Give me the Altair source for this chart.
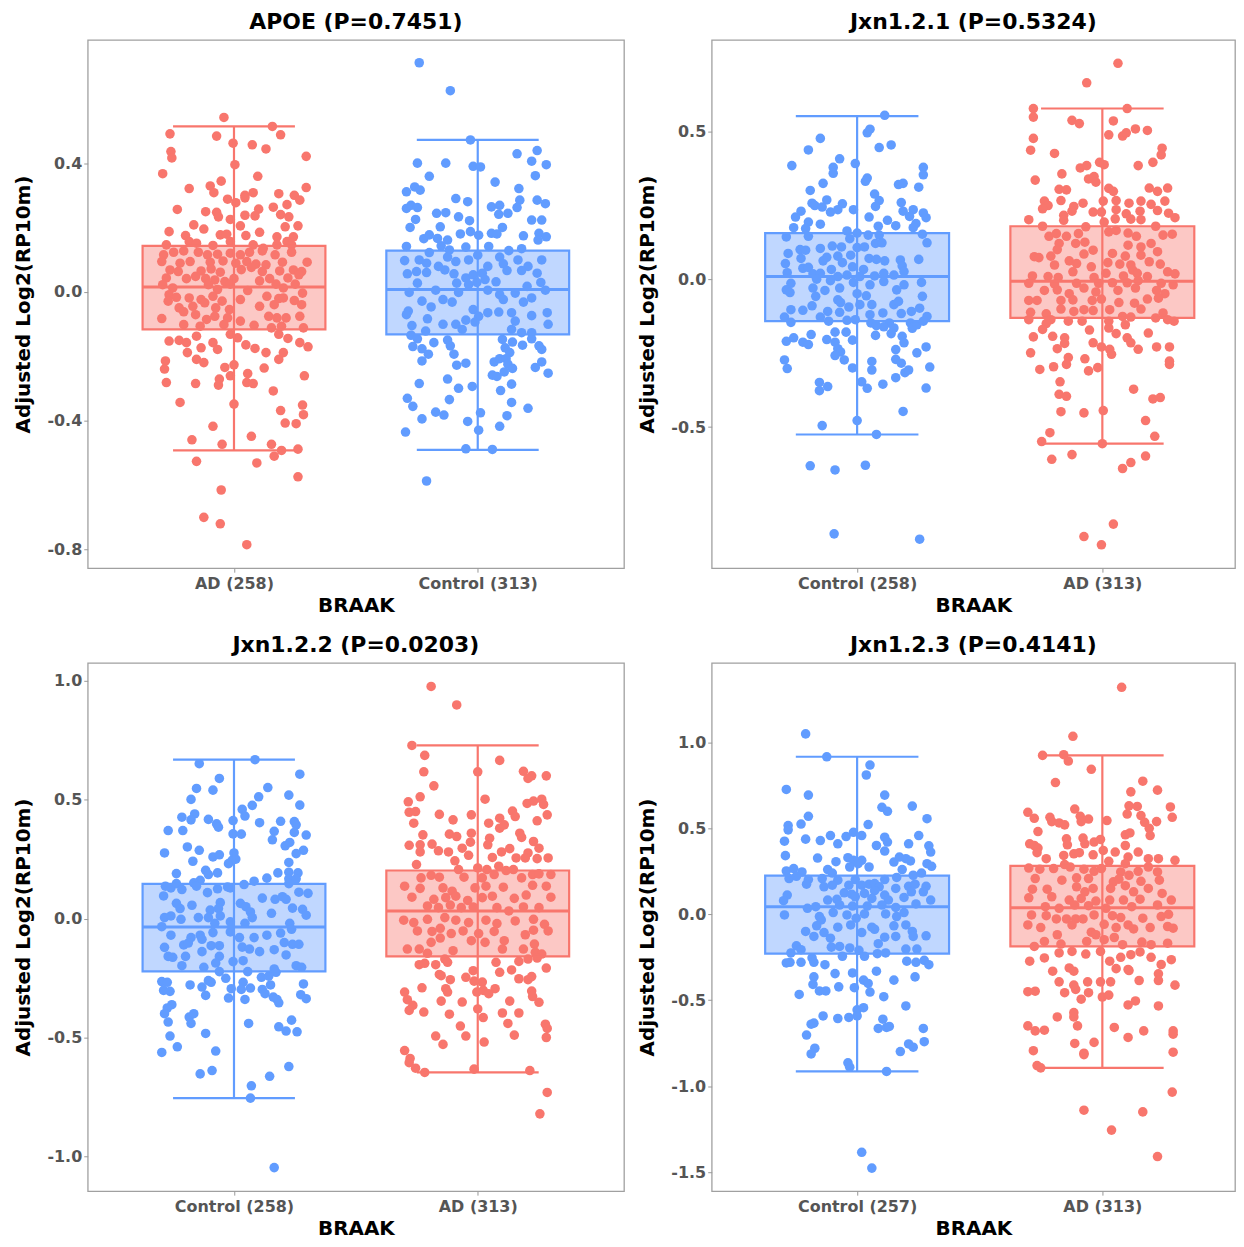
import altair as alt
import pandas as pd

FONT = "DejaVu Sans"
RED, BLUE = "#F8766D", "#619CFF"
RED_FILL, BLUE_FILL = "#FCC8C5", "#C0D7FF"

titles = ["APOE (P=0.7451)", "Jxn1.2.1 (P=0.5324)", "Jxn1.2.2 (P=0.0203)", "Jxn1.2.3 (P=0.4141)"]
categories = [["AD (258)", "Control (313)"], ["Control (258)", "AD (313)"],
              ["Control (258)", "AD (313)"], ["Control (257)", "AD (313)"]]
groups = [["AD", "Control"], ["Control", "AD"], ["Control", "AD"], ["Control", "AD"]]
# [lower whisker, q1, median, q3, upper whisker]
box_stats = [
    [[-0.493, -0.117, 0.015, 0.143, 0.514], [-0.491, -0.132, 0.007, 0.128, 0.472]],
    [[-0.525, -0.142, 0.009, 0.156, 0.551], [-0.556, -0.131, -0.007, 0.179, 0.577]],
    [[-0.755, -0.222, -0.035, 0.146, 0.668], [-0.647, -0.159, 0.032, 0.202, 0.728]],
    [[-0.914, -0.229, 0.044, 0.225, 0.916], [-0.893, -0.187, 0.038, 0.281, 0.924]],
]
y_domains = [[-0.859, 0.783], [-0.977, 0.809], [-1.146, 1.075], [-1.61, 1.462]]
y_ticks = [[-0.8, -0.4, 0.0, 0.4], [-0.5, 0.0, 0.5], [-1.0, -0.5, 0.0, 0.5, 1.0],
           [-1.5, -1.0, -0.5, 0.0, 0.5, 1.0]]

# points: [jitter (fraction of box half-width), value]
p1_ad = [[-0.11,0.542],[0.42,0.514],[-0.70,0.491],[-0.19,0.484],[0.51,0.488],[-0.01,0.462],[0.20,0.457],[0.35,0.444],[-0.69,0.436],[-0.68,0.416],[0.79,0.421],[0.01,0.395],[-0.78,0.367],[0.26,0.359],[-0.14,0.344],[-0.26,0.329],[-0.49,0.321],[-0.22,0.308],[0.79,0.324],[0.12,0.300],[0.21,0.308],[0.49,0.305],[0.66,0.300],[0.72,0.285],[-0.07,0.288],[0.02,0.277],[0.12,0.292],[-0.62,0.256],[-0.31,0.249],[-0.19,0.247],[0.27,0.257],[0.43,0.263],[0.58,0.271],[-0.17,0.233],[-0.04,0.225],[0.12,0.238],[0.23,0.236],[0.51,0.240],[0.60,0.233],[-0.44,0.208],[-0.33,0.195],[0.07,0.205],[0.56,0.202],[0.70,0.205],[-0.71,0.187],[-0.53,0.175],[-0.15,0.177],[-0.08,0.179],[0.13,0.175],[0.28,0.185],[0.47,0.171],[0.65,0.171],[-0.74,0.146],[-0.49,0.156],[-0.41,0.151],[-0.23,0.144],[-0.04,0.156],[0.21,0.146],[0.32,0.135],[0.47,0.146],[0.58,0.156],[0.63,0.146],
 [-0.77,0.115],[-0.66,0.123],[-0.55,0.127],[-0.39,0.123],[-0.29,0.115],[-0.18,0.117],[-0.04,0.120],[0.07,0.115],[0.17,0.123],[0.31,0.127],[0.45,0.115],[0.63,0.123],[-0.79,0.094],[-0.59,0.089],[-0.48,0.094],[-0.26,0.092],[-0.12,0.096],[0.02,0.089],[0.14,0.094],[0.24,0.086],[0.35,0.084],[0.53,0.092],[0.80,0.092],[-0.70,0.068],[-0.61,0.063],[-0.36,0.065],[-0.25,0.071],[-0.15,0.061],[0.08,0.069],[0.19,0.076],[0.31,0.063],[0.50,0.065],[0.65,0.068],[0.74,0.063],[-0.74,0.043],[-0.52,0.041],[-0.42,0.048],[-0.31,0.041],[-0.21,0.037],[-0.10,0.032],[0.00,0.041],[0.28,0.034],[0.39,0.041],[0.59,0.043],[0.71,0.053],[-0.78,0.022],[-0.67,0.012],[-0.28,0.022],[-0.18,0.007],[-0.04,0.024],[0.15,0.004],[0.46,0.024],[0.54,0.012],[0.67,0.024],[-0.71,-0.009],[-0.63,-0.017],[-0.49,-0.019],[-0.36,-0.024],[-0.23,-0.014],[-0.13,-0.029],[0.07,-0.024],[0.36,-0.014],[0.49,-0.021],[0.66,-0.027],[0.75,-0.004],[-0.72,-0.029],[-0.60,-0.050],[-0.45,-0.045],[-0.32,-0.034],[-0.20,-0.050],[-0.05,-0.055],[0.28,-0.045],[0.44,-0.040],[0.54,-0.019],[0.74,-0.040],[-0.79,-0.083],[-0.55,-0.062],[-0.42,-0.071],[-0.30,-0.086],[-0.21,-0.076],[-0.07,-0.081],[0.07,-0.091],[0.38,-0.076],[0.47,-0.081],[0.57,-0.081],[0.72,-0.076],[-0.55,-0.102],[-0.37,-0.107],[-0.11,-0.102],[0.22,-0.104],[0.41,-0.112],[0.52,-0.107],[0.76,-0.112],
 [-0.71,-0.153],[-0.60,-0.151],[-0.52,-0.158],[-0.41,-0.138],[-0.23,-0.158],[-0.18,-0.179],[-0.36,-0.174],[-0.04,-0.132],[0.04,-0.143],[0.13,-0.165],[0.23,-0.176],[0.35,-0.189],[0.49,-0.132],[0.59,-0.145],[0.72,-0.158],[0.81,-0.171],[-0.51,-0.189],[-0.75,-0.215],[-0.76,-0.240],[-0.41,-0.210],[-0.33,-0.220],[0.49,-0.210],[0.54,-0.189],[-0.10,-0.235],[0.00,-0.227],[0.33,-0.237],[-0.04,-0.261],[-0.16,-0.271],[0.15,-0.254],[-0.74,-0.282],[-0.42,-0.285],[-0.17,-0.290],[0.14,-0.282],[0.21,-0.285],[0.77,-0.261],[0.43,-0.308],[-0.59,-0.344],[0.00,-0.349],[0.75,-0.352],[0.51,-0.369],[0.76,-0.382],[0.56,-0.408],[0.68,-0.410],[-0.23,-0.418],[-0.46,-0.460],[-0.13,-0.474],[0.19,-0.449],[0.41,-0.474],[0.52,-0.493],[0.70,-0.489],[0.44,-0.511],[-0.41,-0.527],[0.25,-0.532],[0.70,-0.575],[-0.14,-0.616],[-0.33,-0.701],[-0.15,-0.721],[0.14,-0.786]]

p1_control = [[-0.64,0.712],[-0.30,0.625],[-0.08,0.472],[0.43,0.429],[0.65,0.439],[-0.66,0.400],[-0.35,0.400],[-0.05,0.390],[0.03,0.388],[0.59,0.406],[0.75,0.395],[-0.53,0.359],[0.63,0.361],[0.19,0.341],[-0.78,0.311],[-0.69,0.326],[-0.63,0.316],[0.45,0.321],[-0.24,0.290],[-0.11,0.280],[0.46,0.285],[0.65,0.285],[0.74,0.274],[-0.78,0.259],[-0.73,0.269],[-0.66,0.262],[0.15,0.264],[0.24,0.269],[0.43,0.262],[-0.45,0.244],[-0.35,0.246],[0.23,0.241],[0.33,0.244],[-0.68,0.225],[-0.21,0.233],[-0.09,0.221],[0.59,0.223],[0.70,0.223],[-0.74,0.200],[-0.41,0.202],[0.27,0.200],[-0.19,0.180],[-0.08,0.187],[0.01,0.176],[0.15,0.182],[0.21,0.180],[0.50,0.174],[0.67,0.182],[0.75,0.171],[-0.59,0.165],[-0.53,0.177],[-0.44,0.166],[-0.33,0.161],[0.66,0.161],[-0.78,0.141],[-0.40,0.143],[-0.31,0.130],[-0.13,0.139],[0.12,0.141],[0.34,0.128],[0.48,0.134],[-0.53,0.122],
 [-0.80,0.097],[-0.64,0.099],[-0.56,0.089],[-0.43,0.079],[-0.33,0.108],[-0.24,0.094],[-0.10,0.099],[0.00,0.114],[0.11,0.079],[0.24,0.108],[0.28,0.087],[0.44,0.099],[0.55,0.079],[0.70,0.099],[-0.77,0.056],[-0.67,0.063],[-0.56,0.060],[-0.36,0.068],[-0.26,0.056],[-0.13,0.043],[-0.05,0.053],[0.05,0.058],[0.20,0.031],[0.32,0.066],[0.48,0.066],[0.65,0.058],[-0.66,0.027],[-0.23,0.027],[-0.10,0.022],[-0.01,0.029],[0.08,0.038],[0.54,0.017],[0.69,0.029],[-0.75,-0.002],[-0.46,0.005],[-0.21,-0.002],[0.11,0.005],[0.24,-0.009],[0.41,-0.004],[0.74,0.005],[-0.61,-0.029],[-0.51,-0.047],[-0.38,-0.024],[-0.28,-0.032],[0.28,-0.024],[0.50,-0.032],[0.59,-0.019],[-0.76,-0.060],[-0.78,-0.071],[-0.55,-0.084],[-0.05,-0.055],[0.01,-0.076],[0.11,-0.065],[0.23,-0.063],[0.37,-0.065],[0.59,-0.074],[0.76,-0.065],[0.77,-0.101],[-0.72,-0.105],[-0.38,-0.101],[-0.24,-0.101],[-0.13,-0.088],[-0.03,-0.094],[0.41,-0.091],[-0.57,-0.122],[-0.17,-0.117],[0.37,-0.117],[0.48,-0.127],[0.59,-0.127],
 [-0.73,-0.135],[-0.66,-0.146],[-0.48,-0.158],[-0.33,-0.150],[0.27,-0.148],[0.38,-0.156],[0.49,-0.166],[-0.71,-0.170],[-0.61,-0.177],[-0.30,-0.168],[0.30,-0.174],[0.59,-0.146],[0.67,-0.168],[0.70,-0.179],[-0.54,-0.194],[-0.26,-0.194],[0.35,-0.189],[-0.61,-0.215],[0.18,-0.218],[0.24,-0.208],[0.31,-0.208],[0.33,-0.225],[-0.23,-0.228],[-0.13,-0.222],[0.38,-0.238],[0.63,-0.235],[0.70,-0.218],[0.29,-0.249],[0.16,-0.259],[0.21,-0.263],[0.77,-0.253],[-0.33,-0.271],[-0.64,-0.285],[0.37,-0.287],[-0.06,-0.294],[-0.21,-0.300],[0.25,-0.307],[-0.77,-0.331],[-0.31,-0.335],[0.37,-0.344],[-0.71,-0.356],[-0.46,-0.374],[-0.37,-0.383],[0.03,-0.376],[0.55,-0.362],[0.32,-0.385],[-0.61,-0.395],[-0.11,-0.403],[0.24,-0.418],[0.01,-0.430],[-0.79,-0.436],[-0.13,-0.488],[0.16,-0.490],[-0.56,-0.588]]

p2_control = [[0.30,0.554],[0.11,0.495],[0.14,0.507],[-0.40,0.476],[0.24,0.445],[0.37,0.454],[-0.53,0.437],[-0.19,0.407],[-0.71,0.384],[-0.02,0.391],[-0.26,0.378],[-0.26,0.358],[0.72,0.378],[0.72,0.353],[0.11,0.342],[0.09,0.331],[-0.37,0.324],[0.45,0.320],[0.50,0.324],[0.67,0.311],[-0.51,0.300],[0.19,0.288],[0.24,0.266],[-0.33,0.268],[-0.49,0.257],[-0.46,0.249],[0.48,0.259],[0.20,0.246],[-0.38,0.244],[-0.16,0.255],[-0.21,0.235],[-0.29,0.227],[-0.04,0.235],[0.50,0.230],[0.61,0.235],[0.72,0.224],[-0.61,0.230],[-0.67,0.210],[0.13,0.210],[0.57,0.212],[0.75,0.208],[0.33,0.199],[-0.53,0.193],[-0.40,0.186],[0.42,0.181],[0.64,0.188],[-0.69,0.174],[-0.56,0.171],[0.23,0.179],[0.61,0.174],[-0.11,0.163],[0.00,0.156],
 [-0.77,0.143],[-0.53,0.145],[-0.08,0.137],[0.12,0.149],[0.24,0.149],[0.71,0.152],[-0.27,0.112],[-0.17,0.109],[-0.40,0.104],[-0.62,0.100],[-0.56,0.098],[-0.75,0.087],[0.00,0.107],[0.08,0.109],[0.20,0.121],[0.27,0.123],[0.76,0.123],[-0.61,0.070],[-0.33,0.074],[-0.21,0.078],[-0.07,0.081],[0.13,0.070],[0.21,0.067],[0.30,0.062],[0.47,0.065],[0.67,0.067],[-0.78,0.053],[-0.37,0.062],[-0.16,0.056],[0.49,0.045],[-0.59,0.037],[-0.53,0.040],[-0.28,0.033],[-0.05,0.042],[0.07,0.033],[0.29,0.020],[0.51,0.026],[-0.76,0.022],[-0.48,0.018],[-0.40,0.020],[-0.21,0.009],[-0.11,0.014],[0.03,0.009],[0.19,0.011],[0.40,0.014],[-0.72,-0.014],[-0.44,0.000],[-0.29,-0.005],[-0.04,-0.011],[0.14,-0.019],[0.29,-0.008],[0.51,-0.019],[0.70,-0.011],[-0.77,-0.036],[-0.73,-0.045],[-0.48,-0.030],[-0.35,-0.038],[-0.19,-0.030],[0.00,-0.049],[0.10,-0.056],[0.43,-0.036],[-0.45,-0.058],[-0.21,-0.070],[-0.18,-0.079],[0.16,-0.086],[0.40,-0.086],[0.45,-0.075],[0.71,-0.058],[-0.72,-0.103],[-0.59,-0.105],[-0.49,-0.090],[-0.32,-0.109],[-0.19,-0.112],[-0.09,-0.094],[0.03,-0.086],[0.14,-0.120],[0.28,-0.114],[0.48,-0.116],[0.59,-0.109],[0.68,-0.098],[-0.79,-0.128],[-0.72,-0.146],[-0.40,-0.128],[-0.31,-0.142],[-0.11,-0.139],[-0.02,-0.137],[0.15,-0.148],[0.35,-0.148],[0.58,-0.148],[0.76,-0.126],
 [-0.24,-0.179],[-0.12,-0.179],[0.21,-0.157],[0.29,-0.161],[0.40,-0.165],[0.60,-0.166],[0.65,-0.154],[0.72,-0.142],[0.20,-0.190],[0.37,-0.184],[-0.77,-0.210],[-0.69,-0.198],[-0.59,-0.213],[-0.53,-0.221],[-0.50,-0.187],[-0.33,-0.204],[-0.24,-0.213],[-0.05,-0.206],[0.49,-0.193],[0.51,-0.215],[-0.21,-0.235],[-0.18,-0.246],[-0.24,-0.258],[0.42,-0.238],[0.65,-0.249],[0.75,-0.229],[-0.79,-0.273],[-0.76,-0.302],[-0.14,-0.273],[-0.05,-0.300],[0.16,-0.278],[0.16,-0.307],[0.42,-0.271],[0.48,-0.284],[0.52,-0.316],[0.56,-0.307],[0.79,-0.297],[0.42,-0.333],[-0.41,-0.349],[-0.41,-0.377],[-0.32,-0.363],[0.05,-0.347],[0.11,-0.369],[0.28,-0.355],[0.75,-0.368],[0.50,-0.447],[-0.38,-0.495],[0.00,-0.478],[0.21,-0.525],[-0.51,-0.631],[-0.24,-0.645],[0.09,-0.629],[-0.25,-0.861],[0.68,-0.879]]

p2_ad = [[0.17,0.730],[-0.17,0.664],[-0.75,0.577],[0.27,0.577],[-0.75,0.548],[-0.33,0.537],[-0.25,0.526],[0.12,0.535],[0.07,0.488],[0.22,0.484],[0.26,0.495],[0.36,0.508],[0.49,0.503],[-0.75,0.476],[-0.78,0.436],[-0.52,0.425],[0.65,0.443],[0.64,0.420],[0.55,0.395],[-0.03,0.395],[0.02,0.387],[0.39,0.384],[-0.24,0.376],[-0.17,0.384],[-0.44,0.356],[-0.73,0.335],[-0.15,0.339],[-0.09,0.347],[-0.07,0.328],[-0.47,0.304],[-0.39,0.302],[0.07,0.307],[0.12,0.297],[0.51,0.308],[0.60,0.297],[0.71,0.308],[-0.45,0.266],[-0.63,0.264],[-0.59,0.249],[-0.65,0.238],[-0.21,0.257],[0.01,0.264],[0.15,0.266],[0.29,0.257],[0.42,0.264],[0.53,0.253],[0.68,0.264],[-0.31,0.246],[-0.33,0.230],[-0.10,0.227],[-0.01,0.227],[0.15,0.235],[0.26,0.221],[0.41,0.230],[0.60,0.232],[0.72,0.223],[0.79,0.208],[-0.80,0.201],[-0.42,0.216],[-0.42,0.199],[0.02,0.193],[0.14,0.204],[0.31,0.203],[0.42,0.201],[-0.65,0.179],[-0.18,0.177],[0.58,0.179],
 [0.76,0.152],[-0.58,0.145],[-0.50,0.154],[-0.39,0.145],[-0.26,0.154],[0.07,0.160],[0.15,0.165],[0.28,0.156],[0.37,0.145],[0.66,0.149],[-0.47,0.121],[-0.29,0.121],[-0.19,0.125],[-0.10,0.098],[0.28,0.115],[0.42,0.109],[0.53,0.121],[0.60,0.093],[-0.49,0.100],[-0.74,0.076],[-0.69,0.073],[-0.56,0.078],[-0.20,0.085],[0.11,0.087],[0.25,0.078],[0.42,0.081],[-0.36,0.062],[-0.28,0.053],[-0.12,0.042],[0.06,0.056],[0.19,0.051],[0.31,0.048],[0.51,0.059],[0.63,0.051],[-0.52,0.048],[-0.32,0.025],[0.04,0.020],[0.33,0.031],[0.38,0.020],[0.71,0.025],[0.79,0.018],[-0.76,0.011],[-0.59,0.009],[-0.48,0.006],[-0.09,0.006],[0.23,0.011],[0.49,0.009],[-0.80,-0.014],[-0.52,-0.016],[-0.28,-0.014],[-0.04,-0.014],[0.11,-0.012],[0.27,-0.012],[0.39,-0.005],[0.64,-0.014],[0.77,-0.019],[-0.63,-0.038],[-0.49,-0.036],[-0.36,-0.049],[-0.20,-0.030],[-0.07,-0.043],[0.17,-0.038],[0.36,-0.030],[0.59,-0.038],[0.68,-0.049],[-0.80,-0.072],[-0.71,-0.072],[-0.45,-0.072],[-0.32,-0.070],[-0.11,-0.072],[-0.01,-0.067],[0.18,-0.079],[0.35,-0.081],[0.49,-0.067],[0.61,-0.064],[-0.78,-0.112],[-0.61,-0.117],[-0.45,-0.101],[-0.31,-0.109],[-0.20,-0.103],[-0.10,-0.106],[0.08,-0.103],[0.22,-0.126],[0.31,-0.128],[0.42,-0.101],[0.66,-0.114],[0.71,-0.137],[0.78,-0.142],[-0.80,-0.137],[-0.56,-0.137],[-0.22,-0.142],[0.07,-0.142],[0.58,-0.131],
 [-0.61,-0.150],[-0.65,-0.170],[-0.37,-0.142],[-0.14,-0.172],[0.07,-0.165],[0.25,-0.154],[0.50,-0.182],[-0.75,-0.195],[-0.54,-0.193],[-0.41,-0.198],[-0.10,-0.215],[0.15,-0.184],[0.27,-0.198],[0.31,-0.215],[-0.41,-0.217],[-0.49,-0.235],[-0.01,-0.229],[0.08,-0.237],[0.39,-0.237],[0.59,-0.229],[0.73,-0.229],[0.10,-0.254],[-0.78,-0.249],[-0.37,-0.265],[-0.19,-0.269],[-0.39,-0.288],[-0.68,-0.305],[-0.53,-0.296],[-0.15,-0.310],[-0.05,-0.299],[0.73,-0.277],[0.73,-0.288],[-0.46,-0.347],[-0.47,-0.389],[-0.39,-0.396],[0.34,-0.372],[0.55,-0.405],[0.63,-0.400],[-0.45,-0.448],[-0.20,-0.452],[0.01,-0.444],[0.47,-0.478],[-0.57,-0.519],[0.57,-0.531],[-0.66,-0.549],[0.00,-0.556],[-0.55,-0.609],[-0.33,-0.593],[0.22,-0.640],[0.31,-0.620],[0.47,-0.598],[0.12,-0.828],[-0.20,-0.870],[-0.01,-0.898]]

p3_control = [[0.23,0.668],[-0.38,0.651],[0.72,0.607],[-0.16,0.589],[-0.41,0.547],[-0.23,0.540],[0.37,0.551],[0.27,0.512],[0.60,0.519],[-0.47,0.501],[0.20,0.476],[0.72,0.477],[0.09,0.459],[0.12,0.431],[-0.43,0.440],[-0.57,0.426],[-0.47,0.415],[-0.28,0.417],[-0.01,0.412],[-0.19,0.398],[-0.17,0.384],[0.28,0.403],[0.51,0.409],[0.66,0.408],[-0.72,0.370],[-0.56,0.370],[0.44,0.367],[0.68,0.394],[0.66,0.362],[-0.01,0.356],[0.08,0.355],[0.79,0.351],[0.42,0.331],[-0.51,0.301],[-0.38,0.287],[0.56,0.306],[0.61,0.320],[0.76,0.287],[0.68,0.273],[-0.76,0.276],[-0.23,0.259],[-0.16,0.268],[0.00,0.276],[-0.02,0.245],[-0.06,0.231],[0.02,0.250],[-0.45,0.241],[0.60,0.236],[-0.63,0.189],[-0.31,0.203],[-0.18,0.192],[-0.28,0.185],[0.48,0.192],[0.60,0.195],[0.70,0.192],[0.36,0.170],[0.60,0.167],[0.68,0.167],[-0.37,0.161],[-0.44,0.150],[0.22,0.157],[0.11,0.143],
 [-0.75,0.136],[-0.69,0.129],[-0.63,0.147],[-0.57,0.122],[-0.41,0.136],[-0.18,0.125],[-0.07,0.133],[-0.04,0.129],[0.60,0.147],[-0.77,0.095],[-0.29,0.109],[0.31,0.086],[0.45,0.081],[0.53,0.092],[0.71,0.111],[0.81,0.106],[-0.63,0.064],[-0.46,0.056],[-0.15,0.067],[0.07,0.064],[0.13,0.050],[0.57,0.081],[-0.59,0.042],[-0.26,0.036],[-0.17,0.042],[0.18,0.028],[0.41,0.022],[0.64,0.044],[0.75,0.039],[-0.76,0.004],[-0.69,0.011],[-0.58,-0.003],[-0.39,0.004],[-0.28,0.004],[-0.15,0.011],[0.20,0.004],[0.79,0.014],[-0.79,-0.034],[-0.21,-0.020],[-0.04,-0.014],[0.12,-0.020],[0.61,-0.020],[-0.69,-0.070],[-0.47,-0.080],[-0.37,-0.070],[-0.23,-0.059],[-0.04,-0.056],[0.06,-0.080],[0.22,-0.080],[0.36,-0.070],[0.51,-0.061],[0.63,-0.045],[-0.55,-0.111],[-0.50,-0.103],[-0.35,-0.087],[-0.25,-0.114],[-0.16,-0.114],[0.09,-0.120],[0.17,-0.128],[0.28,-0.139],[0.44,-0.131],[0.55,-0.101],[0.64,-0.108],[0.71,-0.108],[-0.76,-0.121],[-0.72,-0.159],[-0.67,-0.163],[-0.53,-0.159],[-0.35,-0.139],[-0.16,-0.159],[0.57,-0.153],[-0.20,-0.187],[-0.01,-0.181],[0.10,-0.177],[-0.57,-0.198],[-0.33,-0.205],[0.44,-0.212],[0.68,-0.198],[0.74,-0.205],
 [-0.16,-0.223],[0.15,-0.223],[0.46,-0.226],[-0.09,-0.251],[0.30,-0.247],[0.38,-0.242],[-0.79,-0.265],[-0.73,-0.268],[-0.28,-0.261],[-0.48,-0.279],[-0.35,-0.288],[-0.25,-0.268],[0.10,-0.268],[0.40,-0.279],[0.76,-0.275],[-0.77,-0.302],[-0.70,-0.306],[-0.03,-0.295],[0.08,-0.298],[0.18,-0.292],[0.31,-0.298],[0.34,-0.316],[-0.31,-0.323],[-0.06,-0.334],[0.12,-0.340],[0.43,-0.330],[0.47,-0.340],[0.49,-0.354],[0.73,-0.320],[0.79,-0.337],[-0.68,-0.362],[-0.73,-0.376],[-0.76,-0.400],[-0.72,-0.435],[-0.49,-0.414],[-0.44,-0.400],[-0.47,-0.441],[0.16,-0.441],[0.49,-0.455],[0.57,-0.473],[0.63,-0.427],[0.69,-0.476],[-0.31,-0.483],[-0.70,-0.494],[-0.62,-0.539],[-0.79,-0.563],[-0.20,-0.557],[0.60,-0.622],[-0.37,-0.653],[-0.24,-0.639],[0.39,-0.663],[0.19,-0.703],[0.18,-0.755],[0.44,-1.047]]

p3_ad = [[-0.51,0.976],[-0.23,0.898],[-0.72,0.728],[-0.58,0.686],[0.24,0.665],[0.00,0.617],[-0.59,0.617],[0.50,0.619],[0.59,0.600],[0.55,0.589],[0.75,0.600],[-0.48,0.558],[-0.63,0.512],[0.08,0.502],[-0.76,0.491],[0.54,0.484],[0.61,0.494],[0.70,0.502],[0.72,0.480],[-0.75,0.447],[-0.68,0.450],[-0.70,0.401],[-0.42,0.438],[-0.27,0.415],[-0.07,0.436],[0.24,0.422],[0.38,0.452],[0.41,0.429],[0.76,0.436],[0.65,0.411],[0.12,0.401],[0.24,0.380],[0.29,0.394],[-0.60,0.352],[-0.31,0.355],[-0.23,0.345],[-0.07,0.359],[0.46,0.359],[0.48,0.341],[0.13,0.338],[-0.75,0.308],[-0.63,0.310],[-0.50,0.313],[-0.08,0.321],[-0.17,0.296],[0.61,0.324],[0.67,0.296],[0.11,0.310],[-0.63,0.280],[-0.43,0.285],[-0.32,0.280],[-0.10,0.266],[0.26,0.280],[0.35,0.294],[0.55,0.276],[0.16,0.257],[0.42,0.255],[0.52,0.255],[0.65,0.252],[0.77,0.255],[-0.25,0.243],[-0.67,0.227],[0.00,0.213],[0.10,0.206],[0.23,0.220],[0.31,0.202],[0.39,0.206],[-0.21,0.206],
 [-0.62,0.171],[-0.51,0.182],[-0.42,0.174],[-0.15,0.174],[0.05,0.171],[0.18,0.185],[0.48,0.171],[0.60,0.185],[0.67,0.188],[0.80,0.185],[-0.80,0.136],[-0.63,0.127],[-0.38,0.129],[-0.28,0.115],[-0.03,0.129],[0.09,0.136],[0.28,0.132],[0.60,0.140],[0.75,0.136],[-0.72,0.090],[-0.48,0.081],[-0.35,0.088],[-0.24,0.094],[-0.11,0.076],[0.05,0.088],[0.16,0.094],[0.40,0.085],[0.53,0.099],[0.80,0.090],[-0.55,0.053],[-0.43,0.046],[-0.30,0.057],[-0.18,0.046],[-0.05,0.049],[0.21,0.046],[0.34,0.032],[0.50,0.049],[0.67,0.046],[-0.81,-0.007],[-0.70,-0.017],[-0.55,-0.003],[-0.36,0.004],[-0.24,-0.007],[-0.10,-0.017],[0.09,-0.007],[0.21,-0.021],[0.41,-0.010],[0.61,-0.003],[0.73,-0.024],[-0.66,-0.052],[-0.50,-0.054],[-0.41,-0.041],[-0.29,-0.063],[-0.16,-0.052],[0.01,-0.063],[0.18,-0.054],[0.52,-0.068],[0.61,-0.049],[0.77,-0.052],[-0.51,-0.100],[-0.41,-0.082],[-0.07,-0.093],[0.08,-0.100],[0.29,-0.093],[0.62,-0.107],[-0.77,-0.128],[-0.64,-0.128],[-0.55,-0.146],[-0.27,-0.135],[0.27,-0.128],[0.50,-0.128],[0.63,-0.142],[0.70,-0.149],[-0.36,-0.170],
 [-0.64,-0.194],[-0.58,-0.188],[-0.46,-0.194],[-0.33,-0.184],[0.20,-0.184],[0.45,-0.180],[0.55,-0.170],[0.65,-0.166],[0.75,-0.208],[0.24,-0.226],[0.37,-0.216],[-0.42,-0.235],[-0.40,-0.240],[-0.13,-0.247],[-0.05,-0.219],[-0.30,-0.257],[0.45,-0.253],[0.55,-0.257],[0.59,-0.244],[-0.04,-0.263],[0.05,-0.267],[-0.61,-0.291],[-0.35,-0.295],[-0.33,-0.309],[-0.01,-0.309],[0.06,-0.302],[0.19,-0.295],[0.12,-0.316],[0.59,-0.305],[0.60,-0.328],[-0.80,-0.309],[-0.77,-0.341],[-0.71,-0.365],[-0.75,-0.386],[-0.59,-0.393],[-0.40,-0.347],[-0.17,-0.351],[0.35,-0.347],[0.67,-0.352],[0.00,-0.380],[-0.31,-0.402],[0.06,-0.416],[0.27,-0.397],[0.45,-0.397],[0.33,-0.441],[-0.19,-0.452],[0.74,-0.444],[0.76,-0.462],[-0.13,-0.494],[-0.46,-0.494],[0.40,-0.490],[0.75,-0.500],[-0.38,-0.529],[0.07,-0.519],[-0.80,-0.555],[-0.74,-0.588],[-0.75,-0.606],[-0.68,-0.629],[-0.58,-0.647],[-0.04,-0.633],[0.57,-0.639],[0.76,-0.731],[0.68,-0.821]]

p4_control = [[-0.56,1.049],[-0.33,0.916],[0.14,0.868],[0.10,0.810],[-0.77,0.726],[-0.53,0.693],[0.30,0.693],[0.27,0.622],[0.33,0.599],[0.60,0.629],[-0.53,0.570],[0.76,0.556],[-0.75,0.516],[-0.75,0.491],[-0.61,0.525],[0.12,0.522],[-0.79,0.425],[-0.56,0.437],[-0.40,0.429],[-0.29,0.458],[-0.21,0.410],[-0.12,0.452],[-0.04,0.477],[0.05,0.458],[0.21,0.400],[0.30,0.448],[0.33,0.420],[0.56,0.410],[0.67,0.458],[0.78,0.398],[0.80,0.362],[0.30,0.368],[-0.78,0.341],[-0.43,0.327],[-0.23,0.306],[-0.10,0.329],[-0.04,0.314],[0.05,0.314],[0.13,0.275],[0.40,0.304],[0.46,0.333],[0.53,0.323],[0.58,0.310],[0.76,0.294],[0.81,0.279],[-0.77,0.252],[-0.69,0.266],[-0.60,0.246],[-0.32,0.260],[-0.27,0.240],[-0.08,0.275],[0.01,0.294],[0.49,0.260],[0.61,0.227],[0.70,0.240],
 [-0.74,0.208],[-0.66,0.221],[-0.53,0.202],[-0.38,0.208],[-0.21,0.198],[-0.02,0.202],[0.13,0.175],[0.30,0.202],[0.43,0.214],[-0.55,0.175],[-0.36,0.160],[-0.27,0.169],[-0.09,0.169],[0.05,0.169],[0.19,0.179],[0.24,0.160],[0.56,0.163],[0.63,0.175],[0.75,0.163],[-0.14,0.125],[-0.06,0.117],[0.08,0.121],[0.19,0.137],[0.30,0.112],[0.42,0.150],[0.59,0.131],[0.72,0.131],[-0.76,0.112],[-0.80,0.079],[-0.32,0.083],[-0.22,0.087],[-0.02,0.102],[0.16,0.092],[0.34,0.083],[0.51,0.098],[0.80,0.083],[-0.54,0.035],[-0.45,0.044],[-0.19,0.054],[-0.05,0.048],[0.11,0.048],[0.27,0.054],[0.42,0.040],[0.64,0.060],[-0.79,-0.004],[-0.41,-0.013],[-0.26,0.010],[-0.11,-0.004],[-0.01,-0.023],[0.08,0.002],[0.31,0.002],[0.43,-0.013],[0.51,0.010],[-0.39,-0.033],[-0.07,-0.062],[-0.44,-0.067],[-0.21,-0.075],[0.16,-0.075],[0.40,-0.067],[0.53,-0.062],[-0.56,-0.100],[-0.47,-0.129],[-0.36,-0.106],[-0.29,-0.139],[0.05,-0.106],[0.19,-0.087],[0.30,-0.133],[0.42,-0.129],[0.60,-0.100],[0.61,-0.129],[0.75,-0.125],[-0.66,-0.183],[-0.61,-0.206],[-0.28,-0.191],[-0.19,-0.187],[-0.08,-0.196],[0.02,-0.210],[0.23,-0.171],[0.53,-0.202],[0.65,-0.202],
 [-0.72,-0.225],[-0.77,-0.283],[-0.73,-0.279],[-0.61,-0.279],[-0.49,-0.254],[-0.47,-0.279],[-0.35,-0.293],[-0.16,-0.244],[0.08,-0.244],[0.22,-0.229],[0.31,-0.225],[0.54,-0.273],[0.64,-0.279],[0.73,-0.268],[0.78,-0.293],[-0.24,-0.345],[-0.05,-0.341],[0.21,-0.331],[0.63,-0.364],[0.40,-0.383],[-0.47,-0.364],[-0.48,-0.408],[-0.20,-0.422],[-0.03,-0.427],[0.07,-0.383],[0.12,-0.402],[-0.41,-0.446],[-0.34,-0.446],[0.14,-0.452],[-0.63,-0.466],[0.29,-0.479],[0.53,-0.533],[0.00,-0.556],[0.07,-0.543],[-0.37,-0.591],[-0.21,-0.606],[-0.09,-0.600],[0.00,-0.591],[0.28,-0.610],[-0.50,-0.639],[-0.47,-0.633],[0.23,-0.664],[0.32,-0.658],[0.35,-0.652],[0.72,-0.664],[-0.55,-0.702],[0.56,-0.754],[0.61,-0.773],[0.73,-0.741],[-0.46,-0.779],[-0.50,-0.812],[0.47,-0.798],[-0.10,-0.864],[-0.08,-0.889],[0.32,-0.914],[0.05,-1.384],[0.16,-1.476]]

p4_ad = [[0.21,1.320],[-0.32,1.035],[-0.65,0.924],[-0.42,0.928],[-0.37,0.891],[-0.12,0.843],[-0.51,0.766],[0.44,0.774],[0.31,0.712],[0.60,0.722],[0.29,0.631],[0.38,0.627],[0.74,0.624],[-0.30,0.612],[-0.81,0.593],[-0.74,0.558],[-0.57,0.564],[-0.55,0.539],[-0.47,0.531],[-0.41,0.520],[-0.24,0.570],[-0.15,0.554],[-0.23,0.539],[0.05,0.545],[0.27,0.583],[0.42,0.574],[0.46,0.535],[0.59,0.539],[0.76,0.564],[0.51,0.500],[0.52,0.458],[-0.70,0.481],[0.25,0.462],[0.30,0.473],[-0.39,0.439],[-0.21,0.443],[-0.09,0.420],[-0.02,0.435],[-0.79,0.410],[-0.74,0.400],[-0.70,0.385],[-0.38,0.404],[-0.19,0.410],[0.25,0.400],[-0.71,0.358],[-0.61,0.323],[-0.42,0.342],[-0.31,0.352],[-0.25,0.358],[-0.10,0.346],[0.01,0.371],[0.14,0.362],[0.28,0.333],[0.39,0.362],[0.50,0.323],[0.61,0.323],[0.79,0.314],[0.07,0.308],[-0.41,0.289],[0.25,0.294],[-0.80,0.269],
 [-0.68,0.262],[-0.53,0.266],[-0.35,0.275],[-0.20,0.262],[-0.09,0.250],[-0.01,0.266],[0.20,0.246],[0.39,0.250],[0.50,0.275],[0.60,0.246],[-0.73,0.208],[-0.44,0.198],[-0.28,0.212],[-0.15,0.208],[0.12,0.189],[0.18,0.204],[0.29,0.227],[0.42,0.192],[0.62,0.198],[-0.76,0.146],[-0.60,0.146],[-0.55,0.102],[-0.28,0.160],[-0.19,0.131],[-0.10,0.150],[0.09,0.150],[0.25,0.166],[0.34,0.131],[0.50,0.150],[0.65,0.121],[-0.80,0.096],[-0.36,0.083],[-0.23,0.092],[-0.07,0.077],[0.08,0.083],[0.23,0.083],[0.41,0.088],[0.75,0.083],[-0.62,0.044],[-0.47,0.035],[-0.30,0.054],[-0.15,0.050],[0.04,0.035],[0.32,0.044],[0.60,0.054],[-0.77,-0.004],[-0.61,-0.008],[-0.50,-0.027],[-0.39,-0.027],[-0.29,-0.027],[-0.21,-0.027],[-0.09,-0.004],[0.11,-0.008],[0.20,-0.019],[0.44,-0.023],[0.64,-0.013],[0.72,0.000],[-0.81,-0.062],[-0.67,-0.077],[-0.49,-0.119],[-0.33,-0.062],[-0.12,-0.104],[0.02,-0.058],[0.15,-0.077],[0.28,-0.062],[0.34,-0.085],[0.52,-0.077],[0.71,-0.071],[0.77,-0.081],[-0.74,-0.187],[-0.63,-0.158],[-0.45,-0.173],[-0.17,-0.158],[-0.07,-0.119],[0.02,-0.148],[0.13,-0.135],[0.22,-0.177],[0.43,-0.162],[0.53,-0.177],[0.71,-0.168],
 [-0.63,-0.254],[-0.47,-0.225],[-0.33,-0.216],[-0.18,-0.231],[-0.02,-0.216],[0.08,-0.273],[0.15,-0.316],[0.20,-0.250],[0.31,-0.235],[0.41,-0.219],[0.53,-0.250],[0.64,-0.292],[0.75,-0.264],[-0.79,-0.273],[-0.54,-0.331],[-0.36,-0.312],[-0.31,-0.331],[0.28,-0.321],[0.29,-0.327],[0.61,-0.346],[-0.47,-0.393],[-0.31,-0.412],[-0.16,-0.393],[-0.02,-0.393],[0.09,-0.393],[0.40,-0.385],[0.61,-0.385],[0.79,-0.412],[-0.81,-0.450],[-0.73,-0.447],[-0.41,-0.456],[-0.29,-0.437],[-0.23,-0.494],[-0.15,-0.456],[0.00,-0.481],[0.07,-0.470],[0.28,-0.527],[0.36,-0.504],[0.61,-0.533],[-0.49,-0.597],[-0.31,-0.597],[-0.31,-0.572],[-0.27,-0.649],[-0.81,-0.649],[-0.73,-0.678],[-0.63,-0.674],[0.13,-0.658],[0.28,-0.716],[0.45,-0.678],[0.77,-0.678],[0.77,-0.697],[-0.30,-0.751],[-0.09,-0.745],[-0.20,-0.808],[-0.20,-0.816],[-0.75,-0.793],[0.77,-0.802],[-0.71,-0.880],[-0.67,-0.893],[0.76,-1.034],[-0.20,-1.139],[0.44,-1.149],[0.10,-1.255],[0.60,-1.409]]

points = [[p1_ad, p1_control], [p2_control, p2_ad], [p3_control, p3_ad], [p4_control, p4_ad]]

HALF = 0.375   # box half width in x units
CAP = 0.25     # whisker cap half width
COLORS = {"AD": (RED, RED_FILL), "Control": (BLUE, BLUE_FILL)}


def panel(i, width, xdom):
    pts, boxes = [], []
    for gi, grp in enumerate(groups[i]):
        col, fill = COLORS[grp]
        for f, v in points[i][gi]:
            pts.append({"x": gi + f * HALF, "y": v, "c": col})
        lo, q1, med, q3, hi = box_stats[i][gi]
        boxes.append({"xc": gi, "x1": gi - HALF, "x2": gi + HALF, "c1": gi - CAP, "c2": gi + CAP,
                      "lo": lo, "q1": q1, "med": med, "q3": q3, "hi": hi, "c": col, "fill": fill})
    pdf, bdf = pd.DataFrame(pts), pd.DataFrame(boxes)
    cats = categories[i]
    xscale = alt.Scale(domain=xdom, nice=False, zero=False)
    yscale = alt.Scale(domain=y_domains[i], nice=False, zero=False)
    xaxis = alt.Axis(values=[0, 1], labelExpr=f"datum.value == 0 ? '{cats[0]}' : '{cats[1]}'",
                     title="BRAAK", grid=False, labelPadding=3, titlePadding=4)
    yaxis = alt.Axis(values=y_ticks[i],
                     labelExpr="(datum.value < 0 ? '-' : '') + format(abs(datum.value), '.1f')",
                     title="Adjusted Log2(RP10m)", grid=False,
                     minExtent=48, maxExtent=48, titlePadding=6)

    def X(field):
        return alt.X(field, type="quantitative", scale=xscale, axis=xaxis)

    def Y(field):
        return alt.Y(field, type="quantitative", scale=yscale, axis=yaxis)

    base = alt.Chart(bdf)
    fill_layer = base.mark_rect(strokeWidth=0).encode(
        x=X("x1"), x2="x2", y=Y("q1"), y2="q3", color=alt.Color("fill:N", scale=None))
    pts_layer = alt.Chart(pdf).mark_circle(size=92, opacity=1).encode(
        x=X("x"), y=Y("y"), color=alt.Color("c:N", scale=None))
    outline = base.mark_rect(fillOpacity=0, strokeWidth=2.2).encode(
        x=X("x1"), x2="x2", y=Y("q1"), y2="q3", stroke=alt.Stroke("c:N", scale=None))
    whisk = base.mark_rule(strokeWidth=2.2).encode(
        x=X("xc"), y=Y("lo"), y2="hi", color=alt.Color("c:N", scale=None))
    cap_lo = base.mark_rule(strokeWidth=2.2).encode(
        x=X("c1"), x2="c2", y=Y("lo"), color=alt.Color("c:N", scale=None))
    cap_hi = base.mark_rule(strokeWidth=2.2).encode(
        x=X("c1"), x2="c2", y=Y("hi"), color=alt.Color("c:N", scale=None))
    median = base.mark_rule(strokeWidth=3).encode(
        x=X("x1"), x2="x2", y=Y("med"), color=alt.Color("c:N", scale=None))
    return alt.layer(fill_layer, pts_layer, outline, whisk, cap_lo, cap_hi, median).properties(
        width=width, height=530, title=titles[i])


LEFT_DOM = [-0.6, 1.6]
RIGHT_DOM = [-0.593, 1.541]
row1 = alt.hconcat(panel(0, 538, LEFT_DOM), panel(1, 525, RIGHT_DOM), spacing=12)
row2 = alt.hconcat(panel(2, 538, LEFT_DOM), panel(3, 525, RIGHT_DOM), spacing=12)
chart = alt.vconcat(row1, row2, spacing=17).properties(
    padding={"left": 5, "top": 0, "right": 0, "bottom": 0}
).configure_view(
    stroke="#a0a0a0", strokeWidth=1.3
).configure_axis(
    labelFont=FONT, labelFontSize=16, labelFontWeight="bold", labelColor="#555555",
    titleFont=FONT, titleFontSize=20, titleFontWeight="bold", titleColor="#000000",
    domain=False, tickColor="#999999", tickSize=4, tickWidth=1
).configure_title(
    font=FONT, fontSize=22, fontWeight="bold", color="#000000", offset=6, anchor="middle"
)

chart.save("out.html", embed_options={"renderer": "svg", "actions": False})
